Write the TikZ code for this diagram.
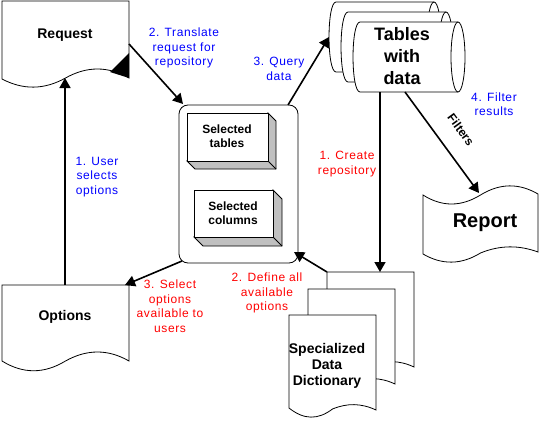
\documentclass[tikz,border=0pt]{standalone}
\usepackage{fontspec}
\setmainfont{Liberation Sans}
\newfontfamily\lblfont[LetterSpace=5]{Liberation Sans}
\usetikzlibrary{arrows.meta}
\newcommand{\mycyl}{%
  \fill[white] (360,22) -- (458,22) .. controls (467.3,22) and (467.3,92) .. (458,92) -- (360,92) .. controls (350.7,92) and (350.7,22) .. (360,22) -- cycle;
  \draw[outl] (360,22) -- (458,22) (360,92) -- (458,92) (360,92) .. controls (350.7,92) and (350.7,22) .. (360,22);
  \draw[outl] (458,57) ellipse [x radius=7pt, y radius=35pt];
}
\newcommand{\mydoc}{%
  \draw[outl,fill=white] (289,315) -- (376,315) -- (376,410) .. controls (361,403) and (347,403) .. (332.5,409) .. controls (318,420) and (304,420) .. (289,408) -- cycle;
}
\newcommand{\mybox}[5]{% x1 y1 x2 y2 d
  \draw[outl,fill=boxgray] (#3,#2) -- ({#3+#5},{#2+#5}) -- ({#3+#5},{#4+#5}) -- ({#1+#5},{#4+#5}) -- (#1,#4) -- (#3,#4) -- cycle;
  \draw[outl] (#3,#4) -- ({#3+#5},{#4+#5});
  \draw[outl,fill=white] (#1,#2) rectangle (#3,#4);
}
\definecolor{boxgray}{RGB}{192,192,192}
\begin{document}
\begin{tikzpicture}[x=1pt,y=-1pt,
  outl/.style={draw=black,line width=0.8pt},
  conn/.style={line width=1.6pt,-{Triangle[length=10pt,width=11pt]}},
  lbl/.style={font=\lblfont\fontsize{12}{14.5}\selectfont,align=center,inner sep=0pt},
  bluelbl/.style={lbl,text=blue},
  redlbl/.style={lbl,text=red},
  title/.style={font=\bfseries\fontsize{14}{16}\selectfont,align=center,inner sep=0pt},
  small title/.style={font=\bfseries\fontsize{12}{14}\selectfont,align=center,inner sep=0pt}]
\useasboundingbox (0,0) rectangle (540,420);
\fill[white] (0,0) rectangle (540,420);

% Request document
\draw[outl,fill=white] (2,1) -- (129,1) -- (129,78) .. controls (108,66) and (87,66) .. (65.5,78) .. controls (44,90) and (23,90) .. (2,79) -- cycle;
\fill[black] (129,53) -- (129,78) -- (110,72) -- cycle;
\node[title] (request) at (65,35) {Request};

% Options document
\draw[outl,fill=white] (2,285) -- (129,285) -- (129,361) .. controls (108,349) and (87,349) .. (65.5,361) .. controls (44,374) and (23,374) .. (2,361) -- cycle;
\node[title] (options) at (65,317) {Options};

% Rounded container
\draw[outl,fill=white,rounded corners=9pt] (179,105) rectangle (298,263);
\mybox{187}{113}{268}{161}{8}
\node[small title] (seltab) at (227,136) {Selected\\tables};
\mybox{194}{190}{273}{237}{9}
\node[small title] (selcol) at (233,213) {Selected\\columns};

% Tables with data (three cylinders)
\begin{scope}[shift={(-24,-20)}]\mycyl\end{scope}
\begin{scope}[shift={(-12,-10)}]\mycyl\end{scope}
\mycyl
\node[font=\bfseries\fontsize{18}{22}\selectfont,align=center,inner sep=0pt] (tables) at (402,56) {Tables\\with\\data};

% Report (tape)
\draw[outl,fill=white] (423,195) .. controls (442,207) and (461,207) .. (480.5,195) .. controls (500,183) and (519,183) .. (538,194) -- (538,252) .. controls (519,245) and (500,245) .. (480.5,253) .. controls (461,265) and (442,265) .. (423,254) -- cycle;
\node[font=\bfseries\fontsize{20}{22}\selectfont,inner sep=0pt] (report) at (485,223) {Report};

% Document stack
\begin{scope}[shift={(38,-43)}]\mydoc\end{scope}
\begin{scope}[shift={(19,-26)}]\mydoc\end{scope}
\mydoc
\node[title] (dict) at (327,366) {Specialized\\Data\\Dictionary};

% connection points
\coordinate (optTop) at (65,285);
\coordinate (reqBot) at (65,78);
\coordinate (reqR) at (129,44);
\coordinate (boxTL) at (183,104);
\coordinate (boxTR) at (288,105);
\coordinate (cylL) at (329,37);
\coordinate (cylB1) at (380,92);
\coordinate (docTop) at (380,272);
\coordinate (cylB2) at (405,92);
\coordinate (repTop) at (479,193);
\coordinate (docTL) at (327,272);
\coordinate (boxBR) at (294,252);
\coordinate (boxBL) at (182,261);
\coordinate (optTR) at (125,285);

% connectors
\draw[conn] (optTop) -- (reqBot);
\draw[conn] (reqR) -- (boxTL);
\draw[conn] (boxTR) -- (cylL);
\draw[conn] (cylB1) -- (docTop);
\draw[conn] (cylB2) -- (repTop);
\draw[conn] (docTL) -- (boxBR);
\draw[conn] (boxBL) -- (optTR);

% labels
\node[bluelbl] (l1) at (97,177) {1. User\\selects\\options};
\node[bluelbl] (l2) at (184,48) {2. Translate\\request for\\repository};
\node[bluelbl] (l3) at (279,69) {3. Query\\data};
\node[bluelbl] (l4) at (494,104) {4. Filter\\results};
\node[redlbl] (r1) at (347,164) {1. Create\\repository};
\node[redlbl] (r2) at (267,293) {2. Define all\\available\\options};
\node[redlbl] (r3) at (170,306) {3. Select\\options\\available to\\users};
\node[small title,rotate=-54] (filters) at (461,130) {Filters};
\end{tikzpicture}
\end{document}
